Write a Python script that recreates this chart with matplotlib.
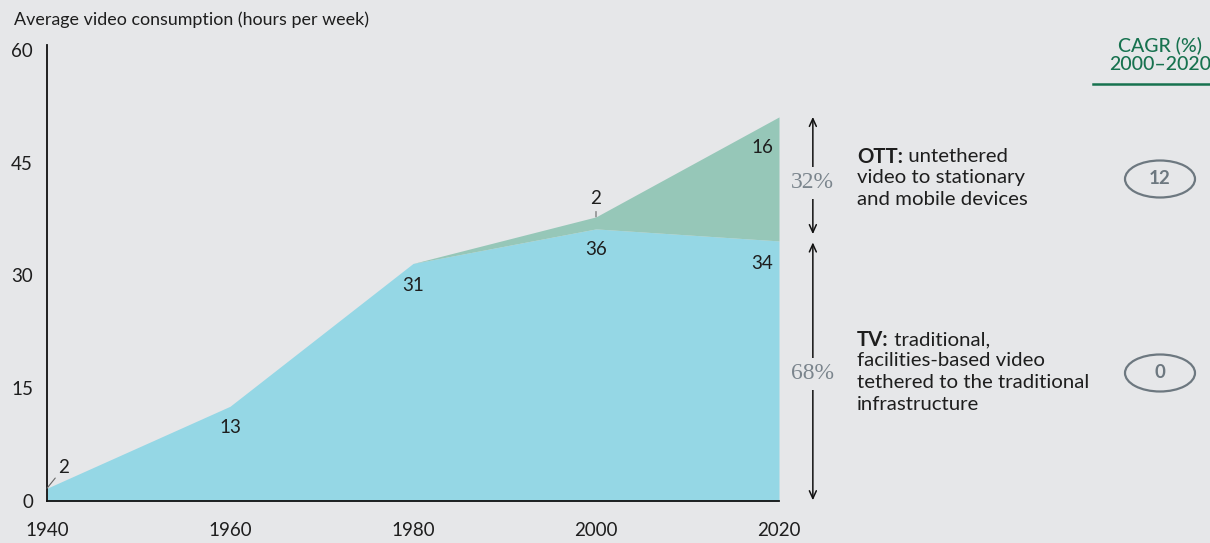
import matplotlib.pyplot as plt
from matplotlib.patches import Ellipse
from matplotlib.lines import Line2D
from matplotlib.text import Annotation

# data
years = [1940, 1960, 1980, 2000, 2020]
tv = [1.7, 12.6, 31.6, 36.2, 34.6]
ott = [0.0, 0.0, 0.0, 1.6, 16.5]
tv_labels = ['2', '13', '31', '36', '34']
ott_labels = ['', '', '', '2', '16']
shares = ['68%', '32%']
cagr = ['0', '12']

bg = '#e6e7e9'
tv_color = '#95d7e5'
ott_color = '#96c7b8'
green = '#17724f'
grey = '#7b858d'
ink = '#1e1e1e'

plt.rcParams['font.family'] = ['Lato', 'DejaVu Sans']

W, H = 1210, 543
fig = plt.figure(figsize=(W / 100, H / 100), dpi=100, facecolor=bg)
ax = fig.add_axes([47 / W, 1 - 501 / H, (779 - 47) / W, (501 - 50) / H])
ax.set_facecolor(bg)


def fx(px):
    return px / W


def fy(py):
    return 1 - py / H


total = [a + b for a, b in zip(tv, ott)]
ax.fill_between(years, 0, tv, color=tv_color, lw=0)
ax.fill_between(years, tv, total, color=ott_color, lw=0)

ax.set_xlim(1940, 2020)
ax.set_ylim(0, 60)
ax.set_yticks([0, 15, 30, 45, 60])
ax.set_xticks(years)
ax.tick_params(length=0, labelsize=13.5, colors=ink)
ax.tick_params(axis='x', pad=15)
ax.tick_params(axis='y', pad=10)
for s in ['top', 'right']:
    ax.spines[s].set_visible(False)
for s in ['left', 'bottom']:
    ax.spines[s].set_color('#111111')
    ax.spines[s].set_linewidth(1.3)
ax.spines['left'].set_bounds(0, 60.6)

lab = dict(fontsize=13.5, ha='center', va='center', color=ink)
# data labels
ax.annotate(tv_labels[0], xy=(1940, tv[0]), xytext=(1941.8, 4.4),
            arrowprops=dict(arrowstyle='-', color='#666666', lw=0.8, shrinkA=0, shrinkB=0), **lab)
ax.text(1960, tv[1] - 2.8, tv_labels[1], **lab)
ax.text(1980, tv[2] - 2.9, tv_labels[2], **lab)
ax.text(2000, tv[3] - 2.7, tv_labels[3], **lab)
ax.text(2018.2, tv[4] - 3.0, tv_labels[4], **lab)
ax.annotate(ott_labels[3], xy=(2000, total[3]), xytext=(2000, total[3] + 2.4),
            arrowprops=dict(arrowstyle='-', color='#666666', lw=0.8, shrinkA=1, shrinkB=0), **lab)
ax.text(2018.2, total[4] - 4.1, ott_labels[4], **lab)

# share arrows
xa = 2023.7
arr = dict(arrowstyle='<->,head_length=0.55,head_width=0.25', color='#111111', lw=1.1,
           shrinkA=0, shrinkB=0)
ax.annotate('', xy=(xa, total[4]), xytext=(xa, tv[4] + 0.9), annotation_clip=False, arrowprops=arr)
ax.annotate('', xy=(xa, tv[4] - 0.2), xytext=(xa, 0.1), annotation_clip=False, arrowprops=arr)
pct = dict(fontsize=17, ha='center', va='center', family='Liberation Serif', color=grey,
           clip_on=False, bbox=dict(fc=bg, ec='none', pad=4))
ax.text(xa, (total[4] + tv[4]) / 2 - 0.5, shares[1], **pct)
ax.text(xa, 16.9, shares[0], **pct)

# descriptions
desc = dict(fontsize=14.7, va='center', color=ink)


def lead(x, y, bold, rest):
    t = fig.text(fx(x), fy(y), bold, weight='bold', **desc)
    fig.add_artist(Annotation(' ' + rest, xy=(1, 0.5), xycoords=t, va='center',
                              fontsize=14.7, color=ink))


lead(857, 157, 'OTT:', 'untethered')
fig.text(fx(857), fy(178), 'video to stationary', **desc)
fig.text(fx(857), fy(199), 'and mobile devices', **desc)
lead(857, 340, 'TV:', 'traditional,')
fig.text(fx(857), fy(361), 'facilities-based video', **desc)
fig.text(fx(857), fy(383), 'tethered to the traditional', **desc)
fig.text(fx(857), fy(404), 'infrastructure', **desc)

# CAGR column
cg = dict(fontsize=14, weight='medium', ha='center', va='center', color=green)
fig.text(fx(1160), fy(46), 'CAGR (%)', **cg)
fig.text(fx(1160), fy(65), '2000–2020', **cg)
fig.add_artist(Line2D([fx(1093), 1], [fy(84)] * 2, color=green, lw=1.8,
                      transform=fig.transFigure))
for val, yp in zip(cagr, [373, 179]):
    fig.add_artist(Ellipse((fx(1160), fy(yp)), 70 / W, 37 / H, fc='none',
                           ec='#6d7880', lw=1.6, transform=fig.transFigure))
    fig.text(fx(1160), fy(yp), val, fontsize=13.5, weight='bold', ha='center',
             va='center', color='#6d7880')

fig.text(fx(14), fy(20), 'Average video consumption (hours per week)', fontsize=12.9,
         va='center', color=ink)

fig.savefig('out.png', dpi=100, facecolor=bg)
